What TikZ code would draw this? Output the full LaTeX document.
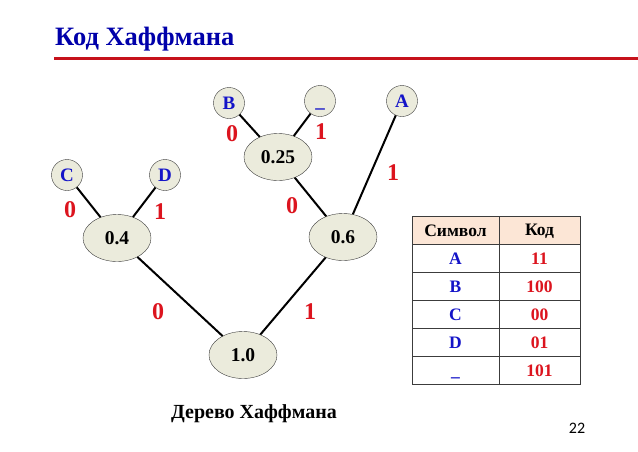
\documentclass[tikz,border=0pt]{standalone}
\usepackage{fontspec}
\setmainfont{Liberation Serif}
\newfontfamily\numfont{Carlito}
\usetikzlibrary{shapes.geometric}
\definecolor{titleblue}{RGB}{0,0,170}
\definecolor{lblue}{RGB}{20,20,200}
\definecolor{lred}{RGB}{220,20,30}
\definecolor{nodefill}{RGB}{235,235,220}
\definecolor{nodeline}{RGB}{60,60,60}
\definecolor{headfill}{RGB}{252,230,214}
\newcommand{\lowbar}{\vphantom{B}\smash{\_}}
\tikzset{
  inner/.style={ellipse,draw=nodeline,fill=nodefill,minimum width=68pt,minimum height=47pt,inner sep=0pt,font=\fontsize{19.5}{19.5}\selectfont\bfseries},
  leaf/.style={circle,draw=nodeline,fill=nodefill,minimum size=31pt,inner sep=0pt,text=lblue,font=\fontsize{19}{19}\selectfont\bfseries},
  bit/.style={text=lred,font=\fontsize{24}{24}\selectfont\bfseries},
  edge/.style={line width=2pt,black},
  tcell/.style={font=\fontsize{17.5}{17.5}\selectfont\bfseries},
}
\begin{document}
\begin{tikzpicture}[x=1pt,y=-1pt]
\useasboundingbox (0,0) rectangle (638,451);
\fill[white] (0,0) rectangle (638,451);
% title
\node[anchor=base west,text=titleblue,font=\fontsize{26.5}{26.5}\selectfont\bfseries,inner sep=0pt] (title) at (55,45) {Код Хаффмана};
\draw[line width=3pt,color=lred!90!black] (54,58) -- (638,58);
% nodes
\node[leaf] (B) at (229,103) {B};
\node[leaf] (U) at (320,101) {\lowbar};
\node[leaf] (A) at (402,101) {A};
\node[inner] (n25) at (278,157) {0.25};
\node[leaf] (C) at (67,175) {C};
\node[leaf] (D) at (165,175) {D};
\node[inner] (n4) at (117,238) {0.4};
\node[inner] (n6) at (343,237) {0.6};
\node[inner] (n10) at (243,355) {1.0};
% edges
\draw[edge] (B) -- (n25);
\draw[edge] (U) -- (n25);
\draw[edge] (n25) -- (n6);
\draw[edge] (A) -- (n6);
\draw[edge] (C) -- (n4);
\draw[edge] (D) -- (n4);
\draw[edge] (n4) -- (n10);
\draw[edge] (n6) -- (n10);
% bits
\node[bit] (b1) at (232,134) {0};
\node[bit] (b2) at (321,132) {1};
\node[bit] (b3) at (393,173) {1};
\node[bit] (b4) at (292,206) {0};
\node[bit] (b5) at (70,210) {0};
\node[bit] (b6) at (160,212) {1};
\node[bit] (b7) at (158,312) {0};
\node[bit] (b8) at (310,312) {1};
% caption
\node[font=\fontsize{20}{20}\selectfont\bfseries] (cap) at (254,414) {Дерево Хаффмана};
\node[font=\numfont\fontsize{16}{16}\selectfont] (pg) at (577,428) {22};
% table
\fill[headfill] (412,216) rectangle (580,244);
\foreach \y in {244,272,300,328,356} \draw[line width=0.9pt,nodeline] (412,\y) -- (580,\y);
\draw[line width=1pt,nodeline] (412,216) rectangle (580,384);
\draw[line width=1pt,nodeline] (499,216) -- (499,384);
\node[tcell] (h1) at (455.5,231) {Символ};
\node[tcell] (h2) at (539.5,231) {Код};
\node[tcell,text=lblue] (s1) at (455.5,259) {A};
\node[tcell,text=lred] (c1) at (539.5,259) {11};
\node[tcell,text=lblue] (s2) at (455.5,287) {B};
\node[tcell,text=lred] (c2) at (539.5,287) {100};
\node[tcell,text=lblue] (s3) at (455.5,315) {C};
\node[tcell,text=lred] (c3) at (539.5,315) {00};
\node[tcell,text=lblue] (s4) at (455.5,343) {D};
\node[tcell,text=lred] (c4) at (539.5,343) {01};
\node[tcell,text=lblue] (s5) at (455.5,371) {\lowbar};
\node[tcell,text=lred] (c5) at (539.5,371) {101};
\end{tikzpicture}
\end{document}
